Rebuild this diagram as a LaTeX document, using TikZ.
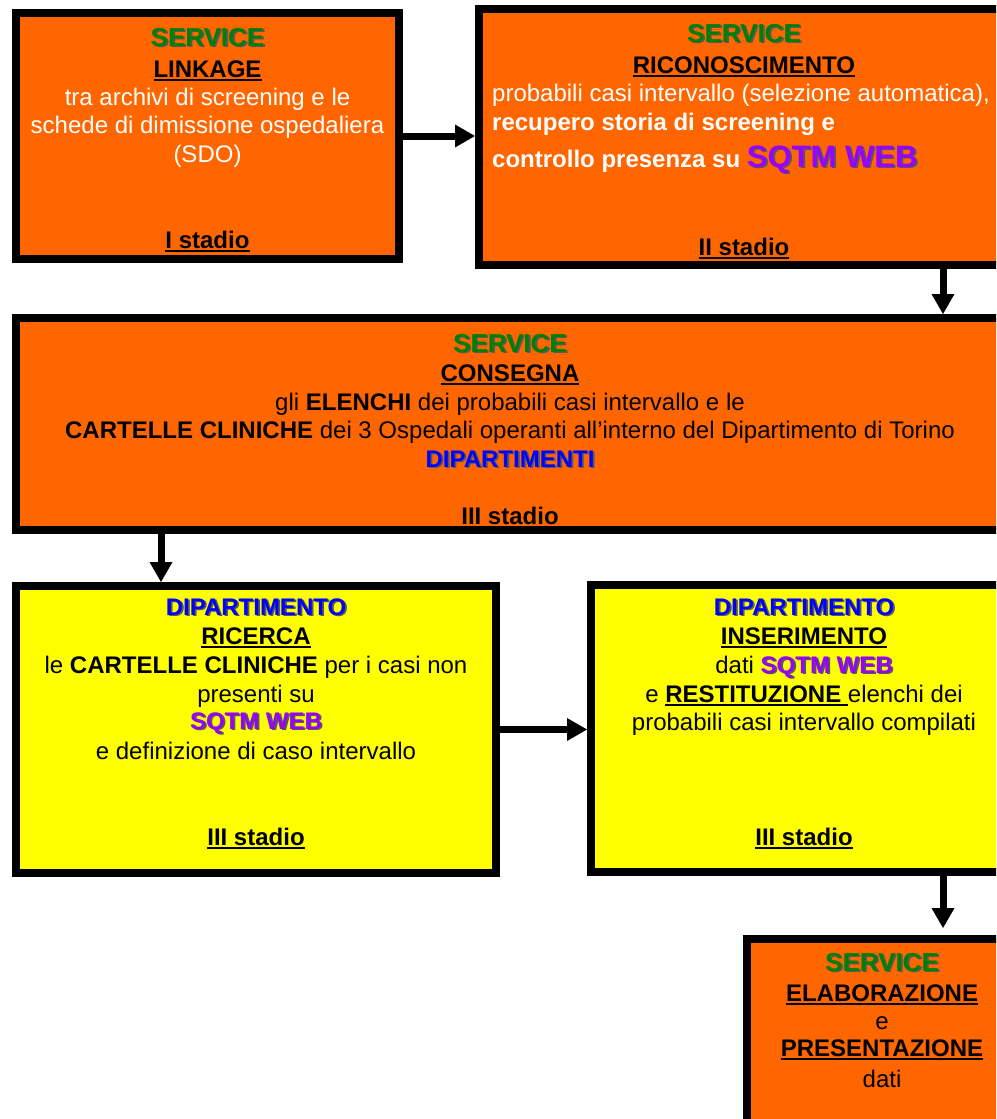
\documentclass[tikz,border=0pt]{standalone}
\usepackage{fontspec}
\setmainfont{Liberation Sans}
\usetikzlibrary{arrows.meta}
\definecolor{orng}{HTML}{FF6600}
\definecolor{ylw}{HTML}{FFFF00}
\definecolor{grn}{HTML}{008000}
\definecolor{blu}{HTML}{0000FF}
\definecolor{prp}{HTML}{9900FF}
\newcommand\ul[1]{\setbox0\hbox{#1}\rlap{\rule[-4pt]{\wd0}{2.2pt}}\box0}
\newcommand\shd[2]{\rlap{\kern1.8pt\raisebox{-1.8pt}{\color{black!65}#2}}{\color{#1}#2}}
\begin{document}
\begin{tikzpicture}[x=1pt,y=-1pt,
  box/.style={draw=black,line width=8pt,rectangle,inner sep=0pt,outer sep=4pt,anchor=north west},
  obox/.style={box,fill=orng},
  ybox/.style={box,fill=ylw},
  txt/.style={inner sep=0pt,anchor=base,font=\fontsize{24}{29}\selectfont},
  ltxt/.style={txt,anchor=base west},
  big/.style={txt,font=\fontsize{26}{29}\selectfont\bfseries},
  arr/.style={line width=7pt,-{Triangle[width=23pt,length=20pt,line width=0pt]}}]
\useasboundingbox (0,0) rectangle (996,1119);
\clip (0,0) rectangle (996,1119);
% boxes
\node[obox,minimum width=383pt,minimum height=246pt] (box1) at (12,9) {};
\node[obox,minimum width=530pt,minimum height=256pt] (box2) at (475,5) {};
\node[obox,minimum width=988pt,minimum height=212pt] (box3) at (12,314) {};
\node[ybox,minimum width=480pt,minimum height=287pt] (box4) at (12,582) {};
\node[ybox,minimum width=426pt,minimum height=287pt] (box5) at (587,581) {};
\node[obox,minimum width=270pt,minimum height=300pt] (box6) at (743,935) {};
% box 1
\node[big] (t1a) at (207.5,46) {\shd{grn}{SERVICE}};
\node[txt] (t1b) at (207.5,77) {\bfseries\ul{LINKAGE}};
\node[txt,text=white] (t1c) at (207.5,105) {tra archivi di screening e le};
\node[txt,text=white] (t1d) at (207.5,133) {schede di dimissione ospedaliera};
\node[txt,text=white] (t1e) at (207.5,162) {(SDO)};
\node[txt] (t1f) at (207.5,248) {\bfseries\ul{I stadio}};
% box 2
\node[big] (t2a) at (744,42) {\shd{grn}{SERVICE}};
\node[txt] (t2b) at (744,73) {\bfseries\ul{RICONOSCIMENTO}};
\node[ltxt,text=white] (t2c) at (492,101) {probabili casi intervallo (selezione automatica),};
\node[ltxt,text=white] (t2d) at (492,130) {\bfseries recupero storia di screening e};
\node[ltxt,text=white] (t2e) at (492,167) {\bfseries controllo presenza su {\fontsize{31}{31}\selectfont\shd{prp}{SQTM WEB}}};
\node[txt] (t2f) at (744,255) {\bfseries\ul{II stadio}};
% box 3
\node[big] (t3a) at (510,352) {\shd{grn}{SERVICE}};
\node[txt] (t3b) at (510,381) {\bfseries\ul{CONSEGNA}};
\node[txt] (t3c) at (510,410) {gli \textbf{ELENCHI} dei probabili casi intervallo e le};
\node[txt] (t3d) at (510,438) {\textbf{CARTELLE CLINICHE} dei 3 Ospedali operanti all’interno del Dipartimento di Torino};
\node[txt] (t3e) at (510,467) {\bfseries\shd{blu}{DIPARTIMENTI}};
\node[txt] (t3f) at (510,524) {\bfseries III stadio};
% box 4
\node[txt] (t4a) at (256,615) {\bfseries\shd{blu}{DIPARTIMENTO}};
\node[txt] (t4b) at (256,644) {\bfseries\ul{RICERCA}};
\node[txt] (t4c) at (256,673) {le \textbf{CARTELLE CLINICHE} per i casi non};
\node[txt] (t4d) at (256,702) {presenti su};
\node[txt] (t4e) at (256,729) {\bfseries\shd{prp}{SQTM WEB}};
\node[txt] (t4f) at (256,759) {e definizione di caso intervallo};
\node[txt] (t4g) at (256,845) {\bfseries\ul{III stadio}};
% box 5
\node[txt] (t5a) at (804,615) {\bfseries\shd{blu}{DIPARTIMENTO}};
\node[txt] (t5b) at (804,644) {\bfseries\ul{INSERIMENTO}};
\node[txt] (t5c) at (804,673) {dati \textbf{\shd{prp}{SQTM WEB}}};
\node[txt] (t5d) at (804,702) {e \textbf{\ul{RESTITUZIONE }}elenchi dei};
\node[txt] (t5e) at (804,730) {probabili casi intervallo compilati};
\node[txt] (t5f) at (804,845) {\bfseries\ul{III stadio}};
% box 6
\node[big] (t6a) at (882,971) {\shd{grn}{SERVICE}};
\node[txt] (t6b) at (882,1001) {\bfseries\ul{ELABORAZIONE}};
\node[txt] (t6c) at (882,1029) {e};
\node[txt] (t6d) at (882,1056) {\bfseries\ul{PRESENTAZIONE}};
\node[txt] (t6e) at (882,1087) {dati};
% connectors
\coordinate (a2) at (943,0);
\coordinate (a3) at (161,0);
\draw[arr] (box1.east) -- (box1.east -| box2.west);
\draw[arr] (box2.south -| a2) -- (box3.north -| a2);
\draw[arr] (box3.south -| a3) -- (box4.north -| a3);
\draw[arr] (box4.east) -- (box4.east -| box5.west);
\draw[arr,shorten >=7pt] (box5.south -| a2) -- (box6.north -| a2);
\end{tikzpicture}
\end{document}
